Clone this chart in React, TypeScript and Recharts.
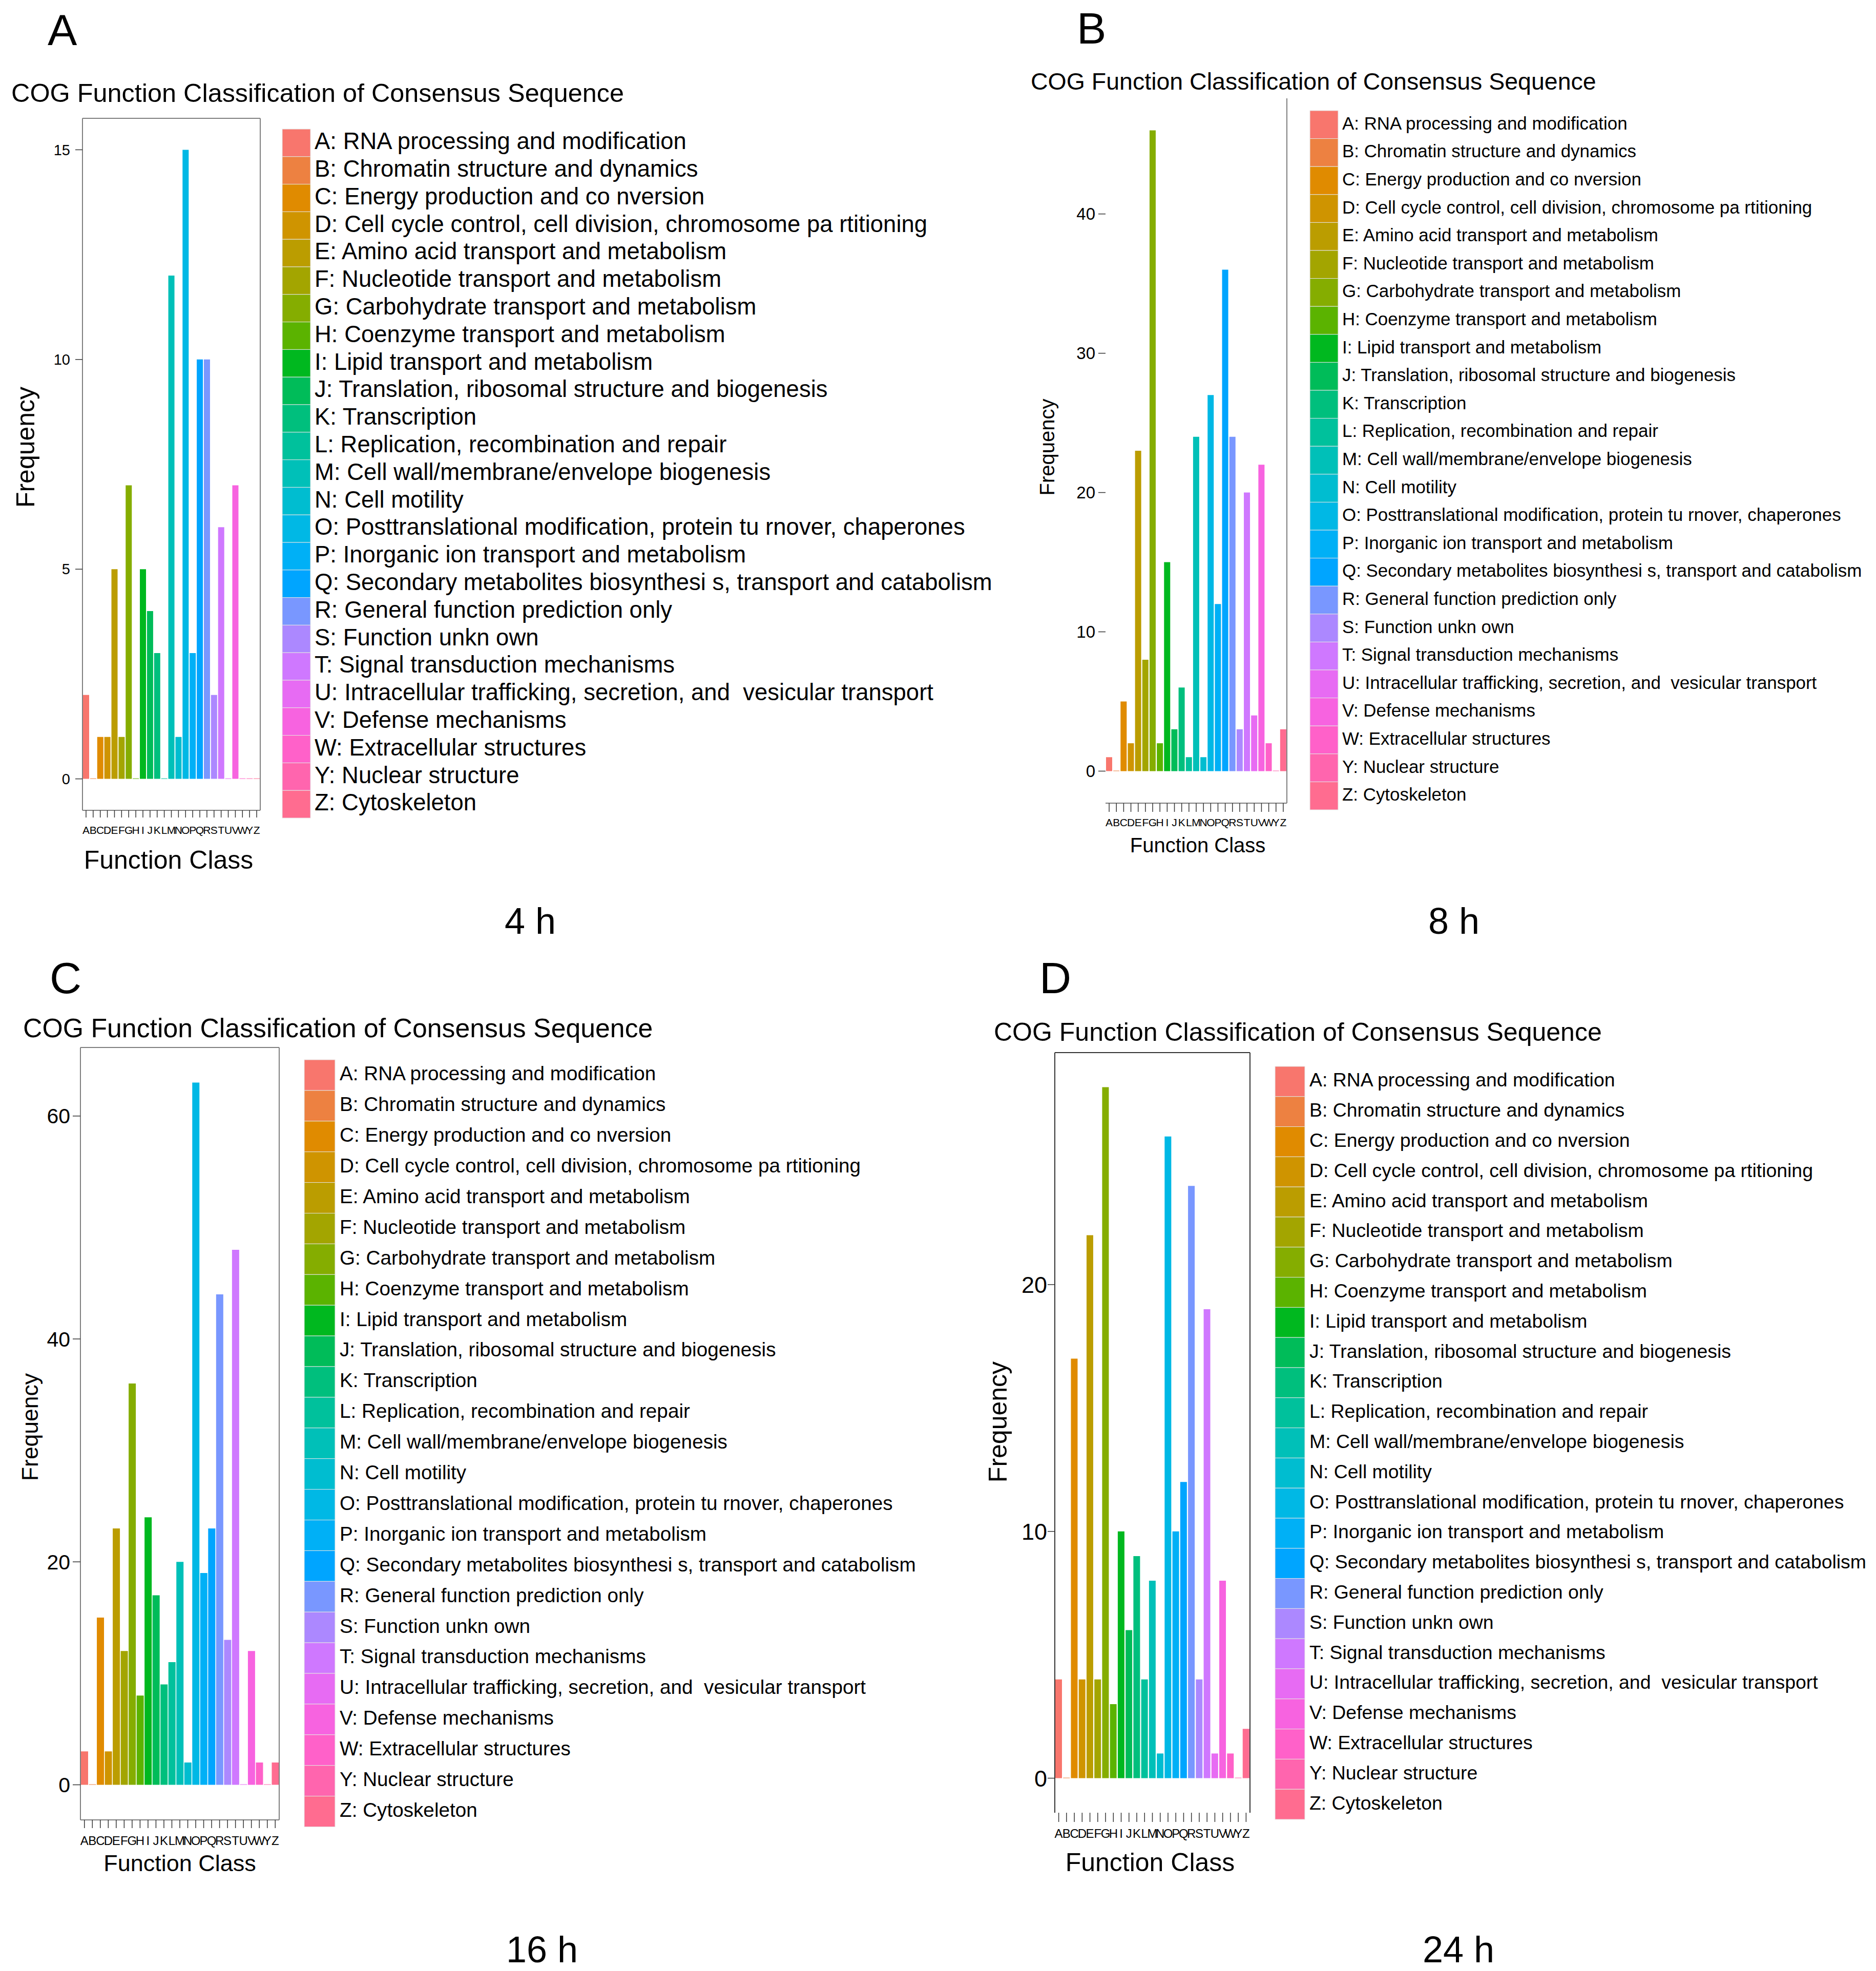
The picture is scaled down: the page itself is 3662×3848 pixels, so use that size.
import React from "react";
import { BarChart, Bar, XAxis, YAxis, Cell } from "recharts";

// COG classes (X is not used in the figure)
const CODES = ["A", "B", "C", "D", "E", "F", "G", "H", "I", "J", "K", "L", "M",
    "N", "O", "P", "Q", "R", "S", "T", "U", "V", "W", "Y", "Z"];

const DESCRIPTIONS = [
    "RNA processing and modification",
    "Chromatin structure and dynamics",
    "Energy production and co nversion",
    "Cell cycle control, cell division, chromosome pa rtitioning",
    "Amino acid transport and metabolism",
    "Nucleotide transport and metabolism",
    "Carbohydrate transport and metabolism",
    "Coenzyme transport and metabolism",
    "Lipid transport and metabolism",
    "Translation, ribosomal structure and biogenesis",
    "Transcription",
    "Replication, recombination and repair",
    "Cell wall/membrane/envelope biogenesis",
    "Cell motility",
    "Posttranslational modification, protein tu rnover, chaperones",
    "Inorganic ion transport and metabolism",
    "Secondary metabolites biosynthesi s, transport and catabolism",
    "General function prediction only",
    "Function unkn own",
    "Signal transduction mechanisms",
    "Intracellular trafficking, secretion, and  vesicular transport",
    "Defense mechanisms",
    "Extracellular structures",
    "Nuclear structure",
    "Cytoskeleton",
];

const FREQ_4H = [2, 0, 1, 1, 5, 1, 7, 0, 5, 4, 3, 0, 12, 1, 15, 3, 10, 10, 2, 6, 0, 7, 0, 0, 0];
const FREQ_8H = [1, 0, 5, 2, 23, 8, 46, 2, 15, 3, 6, 1, 24, 1, 27, 12, 36, 24, 3, 20, 4, 22, 2, 0, 3];
const FREQ_16H = [3, 0, 15, 3, 23, 12, 36, 8, 24, 17, 9, 11, 20, 2, 63, 19, 23, 44, 13, 48, 0, 12, 2, 0, 2];
const FREQ_24H = [4, 0, 17, 4, 22, 4, 28, 3, 10, 6, 9, 4, 8, 1, 26, 10, 12, 24, 4, 19, 1, 8, 1, 0, 2];

const TICKS_4H = [0, 5, 10, 15];
const TICKS_8H = [0, 10, 20, 30, 40];
const TICKS_16H = [0, 20, 40, 60];
const TICKS_24H = [0, 10, 20];

const PANEL_LETTERS = ["A", "B", "C", "D"];
const HOUR_LABELS = ["4 h", "8 h", "16 h", "24 h"];
const TITLE = "COG Function Classification of Consensus Sequence";

const FONT = '"Liberation Sans", Arial, Helvetica, sans-serif';

// ggplot2 default hue palette (hcl, c = 100, l = 65)
const hueColor = (h: number) => {
    const l = 65, c = 100;
    const hr = (h * Math.PI) / 180;
    const u = c * Math.cos(hr), v = c * Math.sin(hr);
    const Xn = 95.047, Yn = 100, Zn = 108.883;
    const den = Xn + 15 * Yn + 3 * Zn;
    const un = (4 * Xn) / den, vn = (9 * Yn) / den;
    const Y = Yn * Math.pow((l + 16) / 116, 3);
    const up = u / (13 * l) + un, vp = v / (13 * l) + vn;
    const X = (Y * 9 * up) / (4 * vp);
    const Z = (Y * (12 - 3 * up - 20 * vp)) / (4 * vp);
    const x = X / 100, y = Y / 100, z = Z / 100;
    const lin = [
        3.240479 * x - 1.53715 * y - 0.498535 * z,
        -0.969256 * x + 1.875992 * y + 0.041556 * z,
        0.055648 * x - 0.204043 * y + 1.057311 * z,
    ];
    return "#" + lin.map((ch) => {
        const g = ch <= 0.0031308 ? 12.92 * ch : 1.055 * Math.pow(ch, 1 / 2.4) - 0.055;
        const n = Math.round(Math.min(1, Math.max(0, g)) * 255);
        return n.toString(16).padStart(2, "0");
    }).join("");
};

const COLORS = CODES.map((_, i) => hueColor(15 + (360 / CODES.length) * i));

const PANELS = [
    {
        values: FREQ_4H, ticks: TICKS_4H,
        x0: 161, x1: 508, y0: 231, y1: 1582,
        yFont: 29, yTick: 14, yMargin: 10, xFont: 21, xTick: 14, xMargin: 17,
        box: { top: true, right: true, bottom: true, left: true }, boxColor: "#7f7f7f",
        letter: { x: 93, y: 88 },
        title: { x: 22, y: 199, size: 50.4 },
        freq: { x: 67, y: 873, size: 50 },
        fclass: { x: 329, y: 1696, size: 50 },
        hour: { x: 1035, y: 1823 },
        legend: { kx: 551, kw: 55, top: 252, rowH: 53.8, tx: 614, size: 45.5 },
    },
    {
        values: FREQ_8H, ticks: TICKS_8H,
        x0: 2158, x1: 2512, y0: 192, y1: 1568,
        yFont: 33, yTick: 14, yMargin: 6, xFont: 21, xTick: 17, xMargin: 13,
        box: { top: false, right: true, bottom: true, left: false }, boxColor: "#7f7f7f",
        letter: { x: 2102, y: 85 },
        title: { x: 2012, y: 175, size: 46.5 },
        freq: { x: 2058, y: 873, size: 40 },
        fclass: { x: 2338, y: 1664, size: 40 },
        hour: { x: 2838, y: 1823 },
        legend: { kx: 2557, kw: 55, top: 216, rowH: 54.6, tx: 2620, size: 34.9 },
    },
    {
        values: FREQ_16H, ticks: TICKS_16H,
        x0: 157, x1: 545, y0: 2045, y1: 3553,
        yFont: 41, yTick: 15, yMargin: 5, xFont: 24, xTick: 16, xMargin: 16,
        box: { top: true, right: true, bottom: true, left: true }, boxColor: "#7f7f7f",
        letter: { x: 97, y: 1939 },
        title: { x: 45, y: 2025, size: 51.8 },
        freq: { x: 74, y: 2786, size: 44.5 },
        fclass: { x: 351, y: 3653, size: 45 },
        hour: { x: 1058, y: 3831 },
        legend: { kx: 594, kw: 60, top: 2069, rowH: 59.9, tx: 663, size: 38.7 },
    },
    {
        values: FREQ_24H, ticks: TICKS_24H,
        x0: 2059, x1: 2440, y0: 2055, y1: 3539,
        yFont: 45, yTick: 14, yMargin: 1, xFont: 24, xTick: 18, xMargin: 14,
        box: { top: true, right: true, bottom: false, left: true }, boxColor: "#333333",
        letter: { x: 2029, y: 1939 },
        title: { x: 1940, y: 2032, size: 50 },
        freq: { x: 1965, y: 2776, size: 50 },
        fclass: { x: 2245, y: 3653, size: 50 },
        hour: { x: 2847, y: 3831 },
        legend: { kx: 2489, kw: 58, top: 2082, rowH: 58.8, tx: 2556, size: 37.4 },
    },
];

const YW = 90;
const XH = 70;
const PAD = 4;
const EDGE = 1; // size of the frame-only axes (top / right)

const Panel = ({ p }: any) => {
    const rows = CODES.map((code, i) => ({ code, value: p.values[i] }));
    const max = Math.max(...p.values);
    const line = { stroke: p.boxColor, strokeWidth: 2 };
    const width = p.x1 - p.x0 + YW + PAD + EDGE;
    const height = p.y1 - p.y0 + XH + PAD + EDGE;
    return (
        <div style={{ position: "absolute", left: p.x0 - YW, top: p.y0 - PAD - EDGE }}>
            <BarChart width={width} height={height} data={rows}
                margin={{ top: PAD, right: PAD, bottom: 0, left: 0 }}
                barCategoryGap={1}>
                <XAxis dataKey="code" interval={0} height={XH}
                    tickSize={p.xTick} tickMargin={p.xMargin}
                    tick={{ fontSize: p.xFont, fill: "#000", fontFamily: FONT }}
                    tickLine={{ stroke: "#333", strokeWidth: 1.5 }}
                    axisLine={p.box.bottom ? line : false} />
                <XAxis xAxisId="top" orientation="top" dataKey="code" height={EDGE}
                    tick={false} tickLine={false}
                    axisLine={p.box.top ? line : false} />
                <YAxis type="number" domain={[-0.05 * max, 1.05 * max]} ticks={p.ticks}
                    width={YW} tickSize={p.yTick} tickMargin={p.yMargin}
                    tick={{ fontSize: p.yFont, fill: "#000", fontFamily: FONT }}
                    tickLine={{ stroke: "#333", strokeWidth: 1.5 }}
                    axisLine={p.box.left ? line : false}
                    allowDataOverflow />
                <YAxis yAxisId="right" orientation="right" type="number" domain={[0, 1]}
                    width={EDGE} tick={false} tickLine={false}
                    axisLine={p.box.right ? line : false} />
                <Bar dataKey="value" minPointSize={1} isAnimationActive={false}>
                    {rows.map((r, i) => (
                        <Cell key={r.code} fill={COLORS[i]} />
                    ))}
                </Bar>
            </BarChart>
        </div>
    );
};

const Texts = ({ p, idx }: any) => {
    const lg = p.legend;
    return (
        <g fontFamily={FONT} fill="#000">
            <text x={p.letter.x} y={p.letter.y} fontSize={86}>{PANEL_LETTERS[idx]}</text>
            <text x={p.title.x} y={p.title.y} fontSize={p.title.size}>{TITLE}</text>
            <text x={p.freq.x} y={p.freq.y} fontSize={p.freq.size} textAnchor="middle"
                transform={`rotate(-90 ${p.freq.x} ${p.freq.y})`}>Frequency</text>
            <text x={p.fclass.x} y={p.fclass.y} fontSize={p.fclass.size} textAnchor="middle">Function Class</text>
            <text x={p.hour.x} y={p.hour.y} fontSize={72} textAnchor="middle">{HOUR_LABELS[idx]}</text>
            {CODES.map((code, i) => {
                const top = lg.top + i * lg.rowH;
                return (
                    <g key={code}>
                        <rect x={lg.kx} y={top} width={lg.kw} height={lg.rowH}
                            fill={COLORS[i]} stroke="#e4e4e4" strokeWidth={1} />
                        <text x={lg.tx} y={top + lg.rowH / 2 + 0.27 * lg.size}
                            fontSize={lg.size} style={{ whiteSpace: "pre" }}>
                            {`${code}: ${DESCRIPTIONS[i]}`}
                        </text>
                    </g>
                );
            })}
        </g>
    );
};

export default function App() {
    return (
        <div style={{ position: "absolute", left: 0, top: 0, width: 3662, height: 3848, background: "#fff", fontFamily: FONT }}>
            {PANELS.map((p, i) => <Panel key={i} p={p} />)}
            <svg width={3662} height={3848} style={{ position: "absolute", left: 0, top: 0, pointerEvents: "none" }}>
                {PANELS.map((p, i) => <Texts key={i} p={p} idx={i} />)}
            </svg>
        </div>
    );
}
